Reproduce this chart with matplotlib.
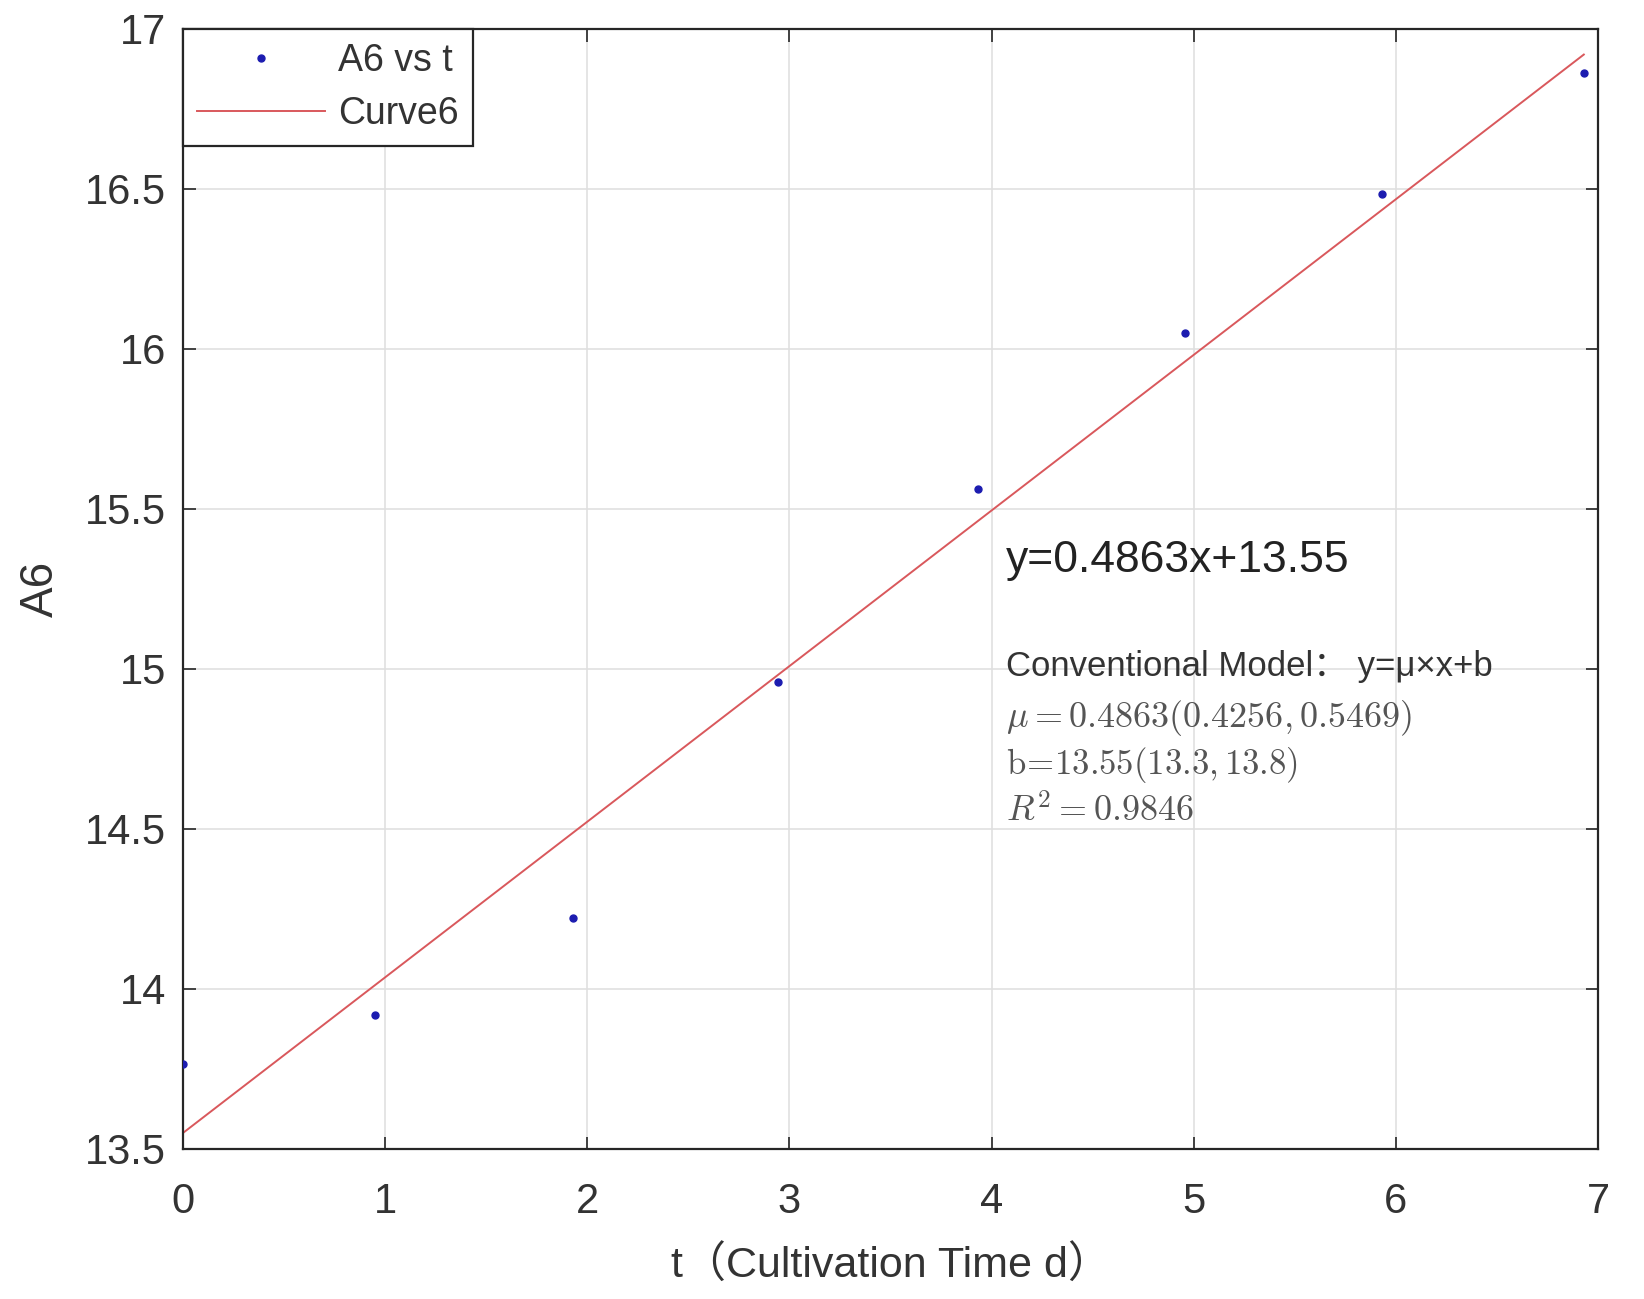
import matplotlib
matplotlib.use("Agg")
import matplotlib.pyplot as plt
import numpy as np
from matplotlib.ticker import FormatStrFormatter

# ---- data ----
t_days = [0.0, 0.95, 1.93, 2.945, 3.935, 4.955, 5.93, 6.93]
a6_vals = [13.767, 13.918, 14.223, 14.959, 15.563, 16.05, 16.484, 16.862]
fit_slope = 0.4863
fit_intercept = 13.55
x_ticks = [0, 1, 2, 3, 4, 5, 6, 7]
y_ticks = [13.5, 14, 14.5, 15, 15.5, 16, 16.5, 17]

sans = ["Liberation Sans", "Noto Sans CJK SC", "DejaVu Sans"]
plt.rcParams["font.family"] = sans
plt.rcParams["mathtext.fontset"] = "cm"

fig = plt.figure(figsize=(16.44, 12.99), dpi=100)
ax = fig.add_axes([0.1113, 0.1155, 0.8607, 0.8622])

fx = np.array([min(t_days), max(t_days)])
ax.plot(t_days, a6_vals, linestyle="none", marker="o", markersize=5,
        color="#1c1cb0", label="A6 vs t", zorder=3)
ax.plot(fx, fit_slope * fx + fit_intercept, color="#d9585c", linewidth=1.4,
        label="Curve6", zorder=2)

ax.set_xlim(0, 7)
ax.set_ylim(13.5, 17)
ax.set_xticks(x_ticks)
ax.set_yticks(y_ticks)
ax.yaxis.set_major_formatter(FormatStrFormatter("%g"))
ax.grid(True, color="#e0e0e0", linewidth=1.2)
ax.set_axisbelow(True)

for s in ax.spines.values():
    s.set_color("#262626")
    s.set_linewidth(1.6)

ax.tick_params(axis="both", direction="in", length=9, width=1.2, colors="#262626",
               labelsize=30, top=True, right=True)
ax.tick_params(axis="x", pad=24)
ax.tick_params(axis="y", pad=12)
for lab in ax.get_xticklabels() + ax.get_yticklabels():
    lab.set_color("#333333")

ax.set_xlabel("t（Cultivation Time d）", fontsize=31, color="#333333", labelpad=17,
              family=sans)
ax.set_ylabel("A6", fontsize=33, color="#333333", labelpad=16)

leg = ax.legend(loc="upper left", borderaxespad=0.0, fontsize=27, frameon=True,
                fancybox=False, edgecolor="#262626", framealpha=1.0,
                handlelength=3.4, handletextpad=0.35, borderpad=0.38,
                labelspacing=0.45, markerscale=1.0)
leg.get_frame().set_linewidth(1.6)
for txt in leg.get_texts():
    txt.set_color("#333333")

# annotations
x_txt = 4.07
ax.text(x_txt, 15.338, "y=0.4863x+13.55", fontsize=32, color="#222222",
        va="center", ha="left")
ax.text(x_txt, 15.007, "Conventional Model： y=μ×x+b", fontsize=25, color="#333333",
        va="center", ha="left", family=sans)
ax.text(x_txt, 14.847, r"$\mu=0.4863(0.4256,0.5469)$", fontsize=26, color="#555555",
        va="center", ha="left")
ax.text(x_txt, 14.699, r"$\mathrm{b}\!=\!13.55(13.3,13.8)$", fontsize=25,
        color="#555555", va="center", ha="left")
ax.text(x_txt, 14.552, r"$R^2=0.9846$", fontsize=26, color="#555555",
        va="center", ha="left")

fig.savefig("out.png", dpi=100, facecolor="white")
